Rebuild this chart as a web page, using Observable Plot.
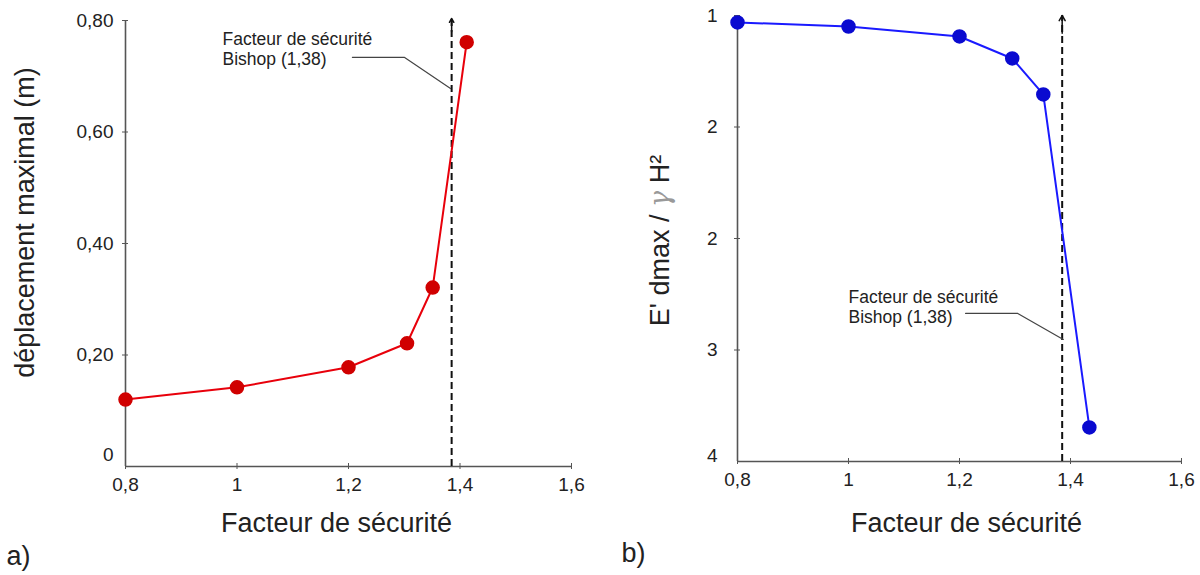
<!DOCTYPE html>
<html><head><meta charset="utf-8">
<script src="https://cdn.jsdelivr.net/npm/d3@7"></script>
<script src="https://cdn.jsdelivr.net/npm/@observablehq/plot@0.6"></script>
<style>
body{margin:0;background:#fff;}
#wrap{display:flex;width:1200px;height:575px;overflow:hidden;}
#wrap svg{font-family:"Liberation Sans",Arial,sans-serif;background:#fff;}
</style></head><body><div id="wrap"></div>
<script>
// ---- data ----
const facteurA = [0.8, 1.0, 1.2, 1.305, 1.351, 1.412];
const deplacement = [0.120, 0.142, 0.178, 0.221, 0.321, 0.761];
const facteurB = [0.8, 1.0, 1.2, 1.295, 1.351, 1.434];
const rapportB = [1.047, 1.074, 1.141, 1.289, 1.531, 3.771];

const xTicks = [0.8, 1, 1.2, 1.4, 1.6];
const xTickLabels = ["0,8", "1", "1,2", "1,4", "1,6"];
const yTicksA = [0, 0.2, 0.4, 0.6, 0.8];
const yTickLabelsA = ["0", "0,20", "0,40", "0,60", "0,80"];
const yTicksB = [1, 1.75, 2.5, 3.25, 4];
const yTickLabelsB = ["1", "2", "2", "3", "4"];

const bishop = 1.385;
const annotationText = "Facteur de sécurité\nBishop (1,38)";
const xLabel = "Facteur de sécurité";
const yLabelA = "déplacement maximal (m)";
const yLabelB = "E' dmax / γ H²";
const panelLabels = ["a)", "b)"];

// annotation anchors (data coordinates)
const annotA = {x: 0.974, y: 0.75};
const leaderA = [{x: 1.207, y: 0.734}, {x: 1.30, y: 0.734}, {x: 1.383, y: 0.678}];
const annotB = {x: 1.0, y: 2.957};
const leaderB = [{x: 1.211, y: 3.004}, {x: 1.305, y: 3.004}, {x: 1.387, y: 3.179}];

const dataA = facteurA.map((f, i) => ({f, v: deplacement[i]}));
const dataB = facteurB.map((f, i) => ({f, v: rapportB[i]}));

const axisColor = "#555";
const fontTick = 19, fontLabel = 27, fontAnnot = 17.5;

function panel(opts) {
  const {data, color, dotColor, yDomain, reverse, yTicks, yTickLabels, mL, mR, mT, mB,
         yLabel, yLabelDx, yLabelDy, xLabelDx, xLabelDy, ytickPad, zeroTick, zeroDy,
         annot, leader, arrowTop, arrowFrom, panelLabel, plDx, plDy} = opts;
  const fmtX = d => xTickLabels[xTicks.indexOf(d)];
  const fmtY = d => yTickLabels[yTicks.indexOf(d)];
  const otherTicks = yTicks.filter(t => t !== zeroTick);
  return Plot.plot({
    width: 600, height: 575,
    marginLeft: mL, marginRight: mR, marginTop: mT, marginBottom: mB,
    style: {fontFamily: "Liberation Sans, Arial, sans-serif", color: "#222", background: "#fff"},
    x: {domain: [0.8, 1.6]},
    y: {domain: yDomain, reverse},
    marks: [
      // axis lines
      Plot.ruleX([0.8], {stroke: axisColor, strokeWidth: 1.6}),
      Plot.ruleY([reverse ? yDomain[1] : yDomain[0]], {stroke: axisColor, strokeWidth: 1.6}),
      Plot.axisX({ticks: xTicks, tickFormat: fmtX, tickSize: 6, dy: -3, tickPadding: 8,
        fontSize: fontTick, stroke: axisColor, fill: "#222", label: null}),
      Plot.axisY({ticks: otherTicks, tickFormat: fmtY, tickSize: 6, dx: 3, tickPadding: ytickPad,
        fontSize: fontTick, stroke: axisColor, fill: "#222", label: null}),
      Plot.axisY({ticks: [zeroTick], tickFormat: fmtY, tickSize: 0, dx: -3, dy: zeroDy, tickPadding: ytickPad,
        fontSize: fontTick, fill: "#222", label: null}),
      // Bishop line
      Plot.ruleX([bishop], {y1: reverse ? yDomain[1] : yDomain[0], y2: arrowTop, stroke: "#111", strokeWidth: 2, strokeDasharray: "7,4"}),
      Plot.arrow([{x: bishop, a: arrowFrom, b: arrowTop}], {x1: "x", x2: "x", y1: "a", y2: "b", stroke: "#111", strokeWidth: 1.5, headLength: 6}),
      // leader + annotation
      Plot.line(leader, {x: "x", y: "y", stroke: "#444", strokeWidth: 1.2}),
      Plot.text([annot], {x: "x", y: "y", text: () => annotationText, textAnchor: "start", lineAnchor: "middle",
        lineHeight: 1.15, fontSize: fontAnnot, fill: "#222"}),
      // series
      Plot.line(data, {x: "f", y: "v", stroke: color, strokeWidth: 2}),
      Plot.dot(data, {x: "f", y: "v", r: 6.5, fill: dotColor, stroke: dotColor}),
      // labels
      Plot.text([xLabel], {frameAnchor: "bottom", dx: xLabelDx, dy: xLabelDy, lineAnchor: "middle", fontSize: fontLabel, fill: "#222"}),
      Plot.text([yLabel], {frameAnchor: "left", dx: yLabelDx, dy: yLabelDy, rotate: -90, textAnchor: "middle", lineAnchor: "middle", fontSize: fontLabel, fill: "#222"}),
      Plot.text([panelLabel], {frameAnchor: "bottom-left", dx: plDx, dy: plDy, textAnchor: "start", lineAnchor: "middle", fontSize: fontLabel, fill: "#222"})
    ]
  });
}

const left = panel({
  data: dataA, color: "#e8000b", dotColor: "#d00000", yDomain: [0, 0.8], reverse: false,
  yTicks: yTicksA, yTickLabels: yTickLabelsA, mL: 125, mR: 29, mT: 20, mB: 109,
  yLabel: yLabelA, yLabelDx: -100, yLabelDy: -21, xLabelDx: -12, xLabelDy: 57, ytickPad: 9,
  zeroTick: 0, zeroDy: -12,
  annot: annotA, leader: leaderA, arrowTop: 0.8036, arrowFrom: 0.78,
  panelLabel: panelLabels[0], plDx: -119, plDy: 90
});
const right = panel({
  data: dataB, color: "#1a1aff", dotColor: "#0a0ad0", yDomain: [1, 4], reverse: true,
  yTicks: yTicksB, yTickLabels: yTickLabelsB, mL: 137, mR: 19, mT: 15, mB: 114,
  yLabel: yLabelB, yLabelDx: -77, yLabelDy: 2, xLabelDx: 7, xLabelDy: 62, ytickPad: 17,
  zeroTick: 4, zeroDy: -6,
  annot: annotB, leader: leaderB, arrowTop: 1.0, arrowFrom: 1.12,
  panelLabel: panelLabels[1], plDx: -116, plDy: 92
});
const wrap = document.getElementById("wrap");
wrap.append(left, right);

// style gamma in the right y label
d3.select(right).selectAll("text").filter(function() { return this.textContent === yLabelB; })
  .each(function() {
    const t = d3.select(this);
    t.text(null);
    t.append("tspan").text("E' dmax / ");
    t.append("tspan").attr("font-family", "DejaVu Serif, serif").attr("font-style", "italic").attr("fill", "#999").text("γ");
    t.append("tspan").text(" H²");
  });
</script></body></html>
